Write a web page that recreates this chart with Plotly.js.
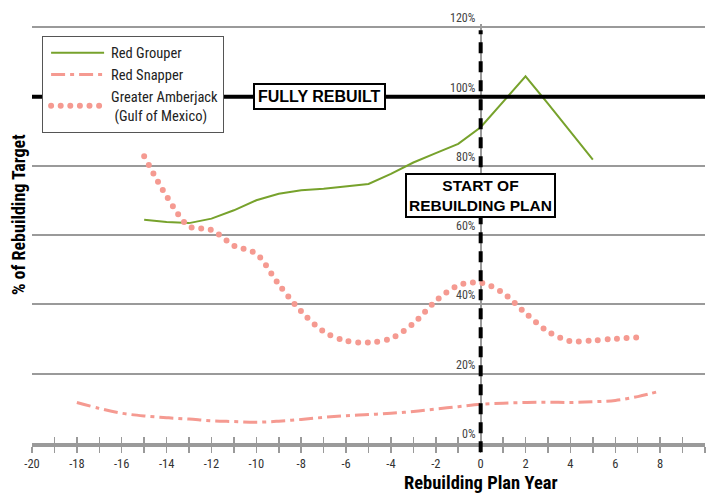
<!DOCTYPE html>
<html>
<head>
<meta charset="utf-8">
<script src="https://cdn.plot.ly/plotly-3.0.1.min.js"></script>
<style>
html,body{margin:0;padding:0;background:#fff;}
#chart{width:707px;height:493px;}
</style>
</head>
<body>
<div id="chart"></div>
<script>
// ---- data ----
const grouperYears = [-15,-14,-13,-12,-11,-10,-9,-8,-7,-6,-5,-4,-3,-2,-1,0,1,2,3,4,5];
const grouperPct   = [64.5,63.8,63.5,64.8,67.2,70.1,72.0,73.0,73.4,74.0,74.8,77.7,81.0,83.7,86.4,91.2,98.5,105.9,98.0,90.0,81.8];

const snapperYears = [-18,-17,-16,-15,-14,-13,-12,-11,-10,-9,-8,-7,-6,-5,-4,-3,-2,-1,0,1,2,3,4,5,6,7,8];
const snapperPct   = [11.7,10.0,8.6,7.8,7.3,6.9,6.4,6.2,6.0,6.3,6.8,7.4,7.9,8.2,8.6,9.1,9.8,10.5,11.2,11.5,11.7,11.8,11.7,11.9,12.3,13.4,15.0];

const amberYears = [-15,-14,-13,-12,-11,-10,-9,-8,-7,-6,-5,-4,-3,-2,-1,0,1,2,3,4,5,6,7];
const amberPct   = [82.8,71.3,62.6,61.5,57.0,54.6,45.8,38.0,32.2,29.5,29.0,30.2,34.5,41.0,45.5,46.3,43.3,37.5,32.2,29.4,29.6,30.1,30.5];

const seriesNames = ["Red Grouper", "Red Snapper", "Greater Amberjack<br> (Gulf of Mexico)"];

const xTickVals = [-20,-19,-18,-17,-16,-15,-14,-13,-12,-11,-10,-9,-8,-7,-6,-5,-4,-3,-2,-1,0,1,2,3,4,5,6,7,8,9,10];
const xTickText = xTickVals.map(v => (v % 2 === 0 ? String(v) : ""));
const yTickVals = [0,20,40,60,80,100,120];
const yTickText = ["0%","20%","40%","60%","80%","100%","120%"];

const rebuiltLevel = 100;
const planStartYear = 0;
const rebuiltLabel = "FULLY REBUILT";
const rebuiltLabelX = -7.2;
const planLabel = "START OF<br>REBUILDING PLAN";
const planLabelY = 71.5;
const xTitle = "Rebuilding Plan Year";
const yTitle = "% of Rebuilding Target";

// ---- styles ----
const narrow = "Roboto Condensed, Roboto, sans-serif";
const boldFont = "Liberation Sans, Arial, Helvetica, sans-serif";
const green = "#77a22c";
const salmon = "#f59a91";
const grey = "#9a9a9a";

const traces = [
  {x: grouperYears, y: grouperPct, name: seriesNames[0], type: "scatter", mode: "lines",
   line: {color: green, width: 2}},
  {x: snapperYears, y: snapperPct, name: seriesNames[1], type: "scatter", mode: "lines",
   line: {color: salmon, width: 3, dash: "14px,5px,4px,5px", shape: "spline", smoothing: 1}},
  {x: amberYears, y: amberPct, name: seriesNames[2], type: "scatter", mode: "lines",
   line: {color: salmon, width: 6, dash: "0px,9.6px", shape: "spline", smoothing: 0.9}},
  {x: [xTickVals[0]], y: [0], xaxis: "x2", yaxis: "y", mode: "none", showlegend: false, hoverinfo: "skip"}
];

const annotations = [];
yTickVals.forEach((v, i) => {
  annotations.push({x: planStartYear, y: v, xref: "x", yref: "y", text: yTickText[i], showarrow: false,
    xanchor: "right", yanchor: "bottom", xshift: -3, yshift: 0, font: {family: narrow, size: 12, color: "#444"}});
});
annotations.push({x: rebuiltLabelX, y: rebuiltLevel, xref: "x", yref: "y", text: "<b>" + rebuiltLabel + "</b>",
  showarrow: false, bgcolor: "#fff", bordercolor: "#000", borderwidth: 2, borderpad: 3,
  font: {family: boldFont, size: 16, color: "#000"}});
annotations.push({x: planStartYear, y: planLabelY, xref: "x", yref: "y", text: "<b>" + planLabel + "</b>",
  showarrow: false, bgcolor: "#fff", bordercolor: "#000", borderwidth: 2, borderpad: 2,
  font: {family: boldFont, size: 15.5, color: "#000"}});
annotations.push({x: planStartYear, y: -0.095, xref: "x", yref: "paper", text: "<b>" + xTitle + "</b>",
  showarrow: false, yanchor: "middle", font: {family: narrow, size: 18.5, color: "#000"}});
annotations.push({x: -0.021, y: 0.546, xref: "paper", yref: "paper", text: "<b>" + yTitle + "</b>",
  showarrow: false, textangle: -90, xanchor: "center", font: {family: narrow, size: 18, color: "#000"}});

const layout = {
  width: 707, height: 493,
  margin: {l: 32, r: 2, t: 23.5, b: 50},
  paper_bgcolor: "#fff", plot_bgcolor: "#fff",
  showlegend: true,
  legend: {x: 0.015, y: 0.972, xanchor: "left", yanchor: "top", bgcolor: "#fff",
    bordercolor: "#555", borderwidth: 1, font: {family: narrow, size: 14.5, color: "#222"},
    tracegroupgap: 0, itemwidth: 58},
  xaxis: {range: [-20, 10], tickvals: xTickVals, ticktext: xTickText, ticks: "outside", ticklen: 6,
    tickwidth: 1.5, tickcolor: grey, showline: true, linecolor: grey, linewidth: 4,
    showgrid: false, zeroline: true, zerolinecolor: grey, zerolinewidth: 2,
    tickfont: {family: narrow, size: 12.5, color: "#333"}, fixedrange: true},
  xaxis2: {range: [-20, 10], overlaying: "x", anchor: "y", side: "bottom", tickvals: xTickVals,
    ticks: "inside", ticklen: 6, tickwidth: 1.5, tickcolor: grey, showticklabels: false,
    showgrid: false, zeroline: false, showline: false},
  yaxis: {range: [0, 121], tickvals: yTickVals, showticklabels: false, ticks: "",
    showgrid: true, gridcolor: grey, gridwidth: 2, zeroline: false, showline: false, fixedrange: true},
  shapes: [
    {type: "line", xref: "paper", yref: "y", x0: 0, x1: 1, y0: rebuiltLevel, y1: rebuiltLevel,
     line: {color: "#000", width: 4}, layer: "above"},
    {type: "line", xref: "x", yref: "paper", x0: planStartYear, x1: planStartYear, y0: -0.022, y1: 0.985,
     line: {color: "#000", width: 4, dash: "11px,8px"}, layer: "above"}
  ],
  annotations: annotations
};

Plotly.newPlot("chart", traces, layout, {displayModeBar: false, staticPlot: true}).then(() => {
  document.querySelectorAll("path.js-line").forEach(p => {
    const d = p.style.strokeDasharray || "";
    if (d.indexOf("0px") === 0) p.style.strokeLinecap = "round";
  });
  document.querySelectorAll(".legend path.js-line").forEach(p => {
    p.setAttribute("d", "M8,0h53");
  });
});
</script>
</body>
</html>
